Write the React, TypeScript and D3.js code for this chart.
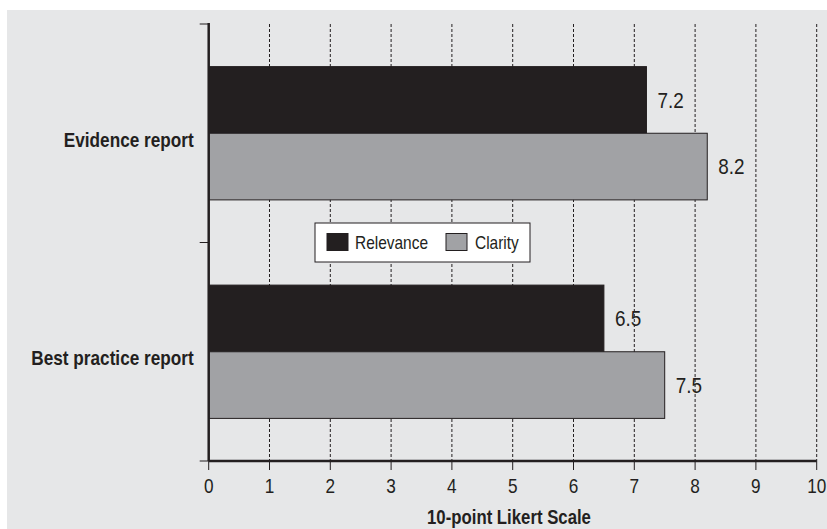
import React, { useEffect, useRef } from "react";
import * as d3 from "d3";

const categories = ["Evidence report", "Best practice report"];
const seriesNames = ["Relevance", "Clarity"];
const relevance = [7.2, 6.5];
const clarity = [8.2, 7.5];
const xTicks = [0, 1, 2, 3, 4, 5, 6, 7, 8, 9, 10];

// condensed Helvetica look: Liberation Sans squeezed horizontally
const FONT = "'Liberation Sans', Arial, sans-serif";
const SQUEEZE = 0.86;
const DARK = "#231f20";
const GREY = "#a1a2a5";
const BG = "#e6e7e8";

const App = () => {
  const svgRef = useRef<SVGSVGElement | null>(null);

  useEffect(() => {
    const width = 827;
    const height = 529;
    const left = 208.7;
    const right = 816.7;
    const top = 24;
    const bottom = 461;

    const svg = d3.select(svgRef.current);
    svg.selectAll("*").remove();
    svg.attr("width", width).attr("height", height);

    const at = (px: number, py: number) => `translate(${px},${py}) scale(${SQUEEZE},1)`;

    // page background (thin white strip top/left)
    svg.append("rect").attr("width", width).attr("height", height).attr("fill", "#fff");
    svg.append("rect").attr("x", 7).attr("y", 10).attr("width", width - 7).attr("height", height - 10).attr("fill", BG);

    const x = d3.scaleLinear().domain([0, 10]).range([left, right]);
    const y0 = d3.scaleBand().domain(categories).range([top, bottom]).paddingInner(0.39).paddingOuter(0.195);
    const y1 = d3.scaleBand().domain(seriesNames).range([0, y0.bandwidth()]);
    const color = d3.scaleOrdinal<string>().domain(seriesNames).range([DARK, GREY]);

    // dashed gridlines
    svg
      .append("g")
      .selectAll("line")
      .data(xTicks.slice(1))
      .join("line")
      .attr("x1", (d) => x(d))
      .attr("x2", (d) => x(d))
      .attr("y1", top)
      .attr("y2", bottom)
      .attr("stroke", DARK)
      .attr("stroke-width", 1)
      .attr("stroke-dasharray", "3,2");

    // bars
    const rows = categories.map((c, i) => ({ cat: c, values: [relevance[i], clarity[i]] }));
    const groups = svg
      .append("g")
      .selectAll("g")
      .data(rows)
      .join("g")
      .attr("transform", (d) => `translate(0,${y0(d.cat)})`);

    groups
      .selectAll("rect")
      .data((d) => d.values.map((v, j) => ({ key: seriesNames[j], v })))
      .join("rect")
      .attr("x", x(0))
      .attr("y", (d) => y1(d.key)!)
      .attr("width", (d) => x(d.v) - x(0))
      .attr("height", y1.bandwidth())
      .attr("fill", (d) => color(d.key))
      .attr("stroke", DARK)
      .attr("stroke-width", 1);

    groups
      .selectAll("text")
      .data((d) => d.values.map((v, j) => ({ key: seriesNames[j], v })))
      .join("text")
      .attr("transform", (d) => at(x(d.v) + 11, y1(d.key)! + y1.bandwidth() / 2))
      .attr("dy", "0.36em")
      .attr("font-family", FONT)
      .attr("font-size", 22)
      .attr("fill", DARK)
      .text((d) => d3.format(".1f")(d.v));

    // x axis ticks + labels
    const xt = svg.append("g");
    xt.selectAll("line")
      .data(xTicks)
      .join("line")
      .attr("x1", (d) => x(d))
      .attr("x2", (d) => x(d))
      .attr("y1", bottom)
      .attr("y2", bottom + 9)
      .attr("stroke", DARK)
      .attr("stroke-width", 1);
    xt.selectAll("text")
      .data(xTicks)
      .join("text")
      .attr("transform", (d) => at(x(d), 493))
      .attr("text-anchor", "middle")
      .attr("font-family", FONT)
      .attr("font-size", 20)
      .attr("fill", DARK)
      .text((d) => String(d));

    svg
      .append("line")
      .attr("x1", left)
      .attr("x2", right)
      .attr("y1", bottom)
      .attr("y2", bottom)
      .attr("stroke", DARK)
      .attr("stroke-width", 2.5);

    // y axis
    svg
      .append("line")
      .attr("x1", left)
      .attr("x2", left)
      .attr("y1", top - 1)
      .attr("y2", bottom)
      .attr("stroke", DARK)
      .attr("stroke-width", 2.5);

    const yTickPos = [top, (top + bottom) / 2, bottom];
    svg
      .append("g")
      .selectAll("line")
      .data(yTickPos)
      .join("line")
      .attr("x1", left - 9)
      .attr("x2", left)
      .attr("y1", (d) => d)
      .attr("y2", (d) => d)
      .attr("stroke", DARK)
      .attr("stroke-width", 1);

    svg
      .append("g")
      .selectAll("text")
      .data(categories)
      .join("text")
      .attr("transform", (d) => at(left - 15, y0(d)! + y0.bandwidth() / 2 + 13.5))
      .attr("text-anchor", "end")
      .attr("font-family", FONT)
      .attr("font-size", 20)
      .attr("font-weight", "bold")
      .attr("fill", DARK)
      .text((d) => d);

    // axis title
    svg
      .append("text")
      .attr("transform", at(509, 524))
      .attr("text-anchor", "middle")
      .attr("font-family", FONT)
      .attr("font-size", 19.5)
      .attr("font-weight", "bold")
      .attr("fill", DARK)
      .text("10-point Likert Scale");

    // legend
    const legend = svg.append("g").attr("transform", "translate(315,223)");
    legend
      .append("rect")
      .attr("width", 215)
      .attr("height", 39)
      .attr("fill", "#fff")
      .attr("stroke", DARK)
      .attr("stroke-width", 1);
    const items = [
      { name: seriesNames[0], sx: 12, tx: 40 },
      { name: seriesNames[1], sx: 131, tx: 160 },
    ];
    const li = legend.selectAll("g").data(items).join("g");
    li.append("rect")
      .attr("x", (d) => d.sx)
      .attr("y", 10.5)
      .attr("width", 21)
      .attr("height", 17)
      .attr("fill", (d) => color(d.name))
      .attr("stroke", DARK)
      .attr("stroke-width", 1);
    li.append("text")
      .attr("transform", (d) => at(d.tx, 19.5))
      .attr("dy", "0.36em")
      .attr("font-family", FONT)
      .attr("font-size", 18)
      .attr("fill", DARK)
      .text((d) => d.name);
  }, []);

  return <svg ref={svgRef} style={{ position: "absolute", left: 0, top: 0, display: "block" }}></svg>;
};

export default App;
